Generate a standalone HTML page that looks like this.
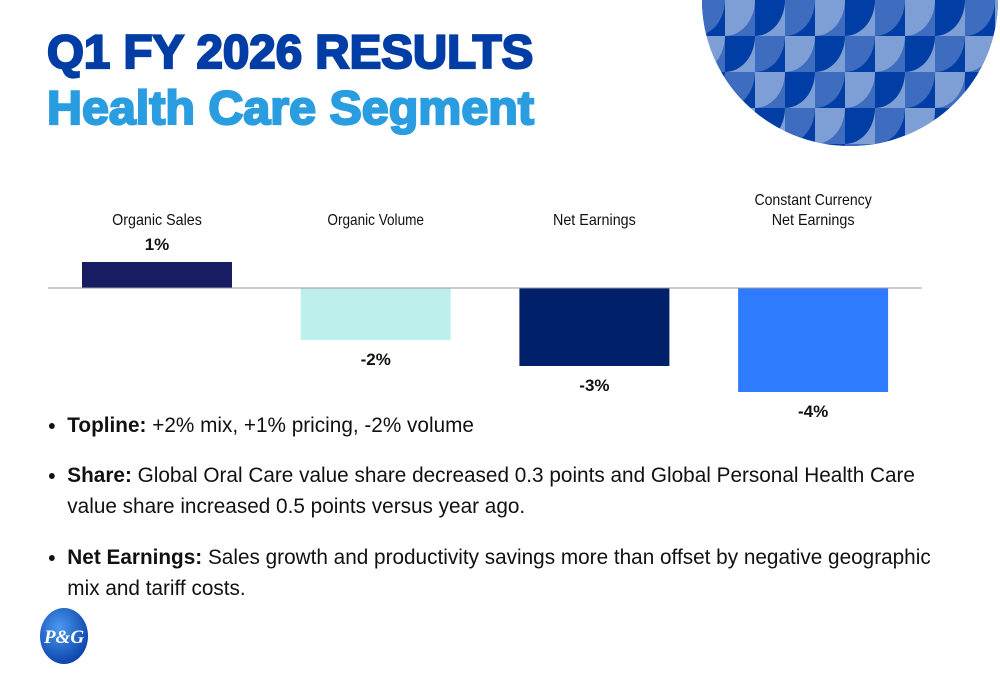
<!DOCTYPE html>
<html><head><meta charset="utf-8"><style>
body{margin:0;width:1000px;height:685px;overflow:hidden;background:#fff;font-family:"Liberation Sans",Arial,sans-serif;position:relative}
.t{position:absolute;left:47px;font-weight:bold;letter-spacing:0px;-webkit-text-stroke:2.2px currentColor;white-space:nowrap}
.b{position:absolute;left:48px;font-size:21.5px;color:#111;line-height:31px;width:930px;transform:scaleX(0.965);transform-origin:left top}
.b li{margin:0 0 0 0}
</style></head><body>
<div class="t" style="top:24px;font-size:47px;color:#003da5;transform:scaleX(1.01);transform-origin:left">Q1 FY 2026 RESULTS</div>
<div class="t" style="top:80px;font-size:47px;color:#2a9de0;transform:scaleX(1.03);transform-origin:left">Health Care Segment</div>

<svg style="position:absolute;left:700px;top:0" width="300" height="150">
<defs><clipPath id="c"><ellipse cx="150" cy="0" rx="148" ry="146"/></clipPath></defs>
<g clip-path="url(#c)" id="pat"></g>
</svg>

<svg id="chart" style="position:absolute;left:0;top:180px" width="1000" height="250"></svg>

<ul class="b" style="top:410px;padding-left:20px;margin:0">
<li style="margin-bottom:19px"><b>Topline:</b> +2% mix, +1% pricing, -2% volume</li>
<li style="margin-bottom:20px"><b>Share:</b> Global Oral Care value share decreased 0.3 points and Global Personal Health Care value share increased 0.5 points versus year ago.</li>
<li><b>Net Earnings:</b> Sales growth and productivity savings more than offset by negative geographic mix and tariff costs.</li>
</ul>

<svg style="position:absolute;left:38px;top:606px" width="54" height="60">
<defs><radialGradient id="lg" cx="40%" cy="35%" r="70%"><stop offset="0" stop-color="#4a9af0"/><stop offset="1" stop-color="#0a3fa8"/></radialGradient></defs>
<ellipse cx="26" cy="30" rx="24" ry="28" fill="url(#lg)"/>
<text x="26" y="37" text-anchor="middle" font-family="Liberation Serif" font-style="italic" font-weight="bold" font-size="19" fill="#fff">P&amp;G</text>
</svg>

<script>
const categories=["Organic Sales","Organic Volume","Net Earnings","Constant Currency Net Earnings"];
const values=[1,-2,-3,-4];
const valueLabels=["1%","-2%","-3%","-4%"];
const colors=["#171c63","#bdefed","#00216a","#2f7bfe"];
const NS="http://www.w3.org/2000/svg";
const svg=document.getElementById("chart");
const base=108, unit=26, x0=82, step=218.7, bw=150;
const y=v=>base-v*unit;
function el(t,a){const e=document.createElementNS(NS,t);for(const k in a)e.setAttribute(k,a[k]);svg.appendChild(e);return e;}
categories.forEach((c,i)=>{
 const v=values[i],x=x0+i*step;
 const r=el("rect",{x:x,y:Math.min(y(v),base),width:bw,height:Math.abs(v)*unit,fill:colors[i]});
 
 
 const cx=x+bw/2;
 const words=c==="Constant Currency Net Earnings"?["Constant Currency","Net Earnings"]:[c];
 words.forEach((w,j)=>{
  const t=el("text",{x:cx,y:45-(words.length-1-j)*20,"text-anchor":"middle","font-size":"16","fill":"#111","textLength":w.length*6.9,"lengthAdjust":"spacingAndGlyphs"});
  t.textContent=w;
  
  
 });
 const ly=v>=0?y(v)-12:y(v)+25;
 const t=el("text",{x:cx,y:ly,"text-anchor":"middle","font-size":"17","font-weight":"bold","fill":"#111"});
 t.textContent=valueLabels[i];
 
 
});
const ax=el("line",{x1:48,x2:922,y1:base,y2:base,stroke:"#999","stroke-width":1});



const g=document.getElementById("pat");
const cols=["#003da5","#3e6cbf","#7e9fd6"];
for(let r=0;r<5;r++)for(let c=0;c<11;c++){
 const x=c*30-5,yy=r*36;
 const bg=cols[(r+c)%3], fg=cols[(r+c+1)%3];
 const rc=document.createElementNS(NS,"rect");
 rc.setAttribute("x",x);rc.setAttribute("y",yy);rc.setAttribute("width",30);rc.setAttribute("height",36);rc.setAttribute("fill",bg);g.appendChild(rc);
 const p=document.createElementNS(NS,"path");
 p.setAttribute("d",`M${x} ${yy}L${x+30} ${yy}A30 36 0 0 1 ${x} ${yy+36}Z`);
 p.setAttribute("fill",fg);g.appendChild(p);
}
</script>
</body></html>
